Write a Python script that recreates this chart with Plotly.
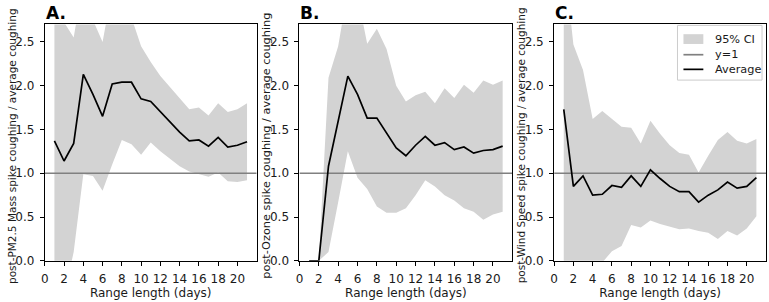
import plotly.graph_objects as go

days = list(range(1, 22))

# Panel A: PM2.5 Mass
pm_avg = [1.37, 1.14, 1.34, 2.13, 1.90, 1.65, 2.02, 2.04, 2.04, 1.85, 1.82, 1.70, 1.58, 1.47,
          1.37, 1.38, 1.31, 1.41, 1.30, 1.32, 1.36]
pm_hi = [2.90, 2.72, 2.55, 3.20, 2.75, 2.50, 3.10, 2.95, 2.78, 2.45, 2.27, 2.11, 1.98, 1.85,
         1.73, 1.75, 1.66, 1.80, 1.70, 1.73, 1.80]
pm_lo = [-0.50, -0.40, 0.10, 0.99, 0.97, 0.80, 1.10, 1.38, 1.33, 1.21, 1.35, 1.25, 1.16, 1.08,
         1.02, 0.99, 0.96, 1.01, 0.91, 0.90, 0.92]

# Panel B: Ozone
oz_avg = [0.00, 0.00, 1.08, 1.60, 2.11, 1.90, 1.63, 1.63, 1.46, 1.29, 1.20, 1.32, 1.42, 1.32,
          1.35, 1.27, 1.30, 1.23, 1.26, 1.27, 1.31]
oz_hi = [0.00, 0.00, 2.09, 2.45, 3.10, 3.03, 2.48, 2.65, 2.42, 2.00, 1.82, 1.89, 1.93, 1.80,
         1.97, 1.86, 2.01, 1.92, 2.06, 2.01, 2.06]
oz_lo = [0.00, 0.00, 0.10, 0.67, 1.25, 0.95, 0.82, 0.62, 0.55, 0.55, 0.60, 0.75, 0.92, 0.85,
         0.75, 0.69, 0.60, 0.56, 0.47, 0.53, 0.56]

# Panel C: Wind Speed
ws_avg = [1.73, 0.85, 0.97, 0.75, 0.76, 0.86, 0.84, 0.97, 0.85, 1.04, 0.94, 0.85, 0.79, 0.79,
          0.67, 0.75, 0.81, 0.90, 0.83, 0.85, 0.95]
ws_hi = [3.50, 2.47, 2.18, 1.62, 1.71, 1.62, 1.53, 1.52, 1.34, 1.60, 1.45, 1.32, 1.23, 1.21,
         1.01, 1.20, 1.38, 1.47, 1.37, 1.34, 1.39]
ws_lo = [-1.00, -0.80, -0.60, -0.30, -0.02, 0.11, 0.17, 0.41, 0.38, 0.46, 0.42, 0.39, 0.36, 0.37,
         0.34, 0.32, 0.25, 0.34, 0.29, 0.37, 0.51]

panels = [
    ("A.", "post-PM2.5 Mass spike coughing / average coughing", pm_avg, pm_hi, pm_lo),
    ("B.", "post-Ozone spike coughing / average coughing", oz_avg, oz_hi, oz_lo),
    ("C.", "post-Wind Speed spike coughing / average coughing", ws_avg, ws_hi, ws_lo),
]

legend_labels = ["95% CI", "y=1", "Average"]
x_range = [0, 22]
y_range = [0, 2.7]
ref_level = 1.0
x_ticks = list(range(0, 21, 2))
y_ticks = [0.0, 0.5, 1.0, 1.5, 2.0, 2.5]

W, H = 769, 302
x_domains = [(41, 254), (297, 511), (553, 766)]
y_dom = [(H - 267) / H, (H - 25) / H]
ytitle_sizes = [10.5, 11.3, 10.5]

FONT = "DejaVu Sans"
TXT = "#1a1a1a"
CI_COLOR = "#d3d3d3"
REF_COLOR = "#808080"
fig = go.Figure()


def px(xp):
    return xp / W


def py(yp):
    return (H - yp) / H


for i, (label, ytitle, avg, hi, lo) in enumerate(panels):
    sfx = "" if i == 0 else str(i + 1)
    xa, ya = "x" + sfx, "y" + sfx
    fig.add_trace(go.Scatter(
        x=days + days[::-1], y=hi + lo[::-1], fill="toself", mode="lines",
        line=dict(width=0), fillcolor=CI_COLOR, name=legend_labels[0],
        showlegend=False, xaxis=xa, yaxis=ya, hoverinfo="skip"))
    fig.add_trace(go.Scatter(
        x=x_range, y=[ref_level, ref_level], mode="lines",
        line=dict(color=REF_COLOR, width=1.7), name=legend_labels[1],
        showlegend=False, xaxis=xa, yaxis=ya))
    fig.add_trace(go.Scatter(
        x=days, y=avg, mode="lines", line=dict(color="black", width=1.7),
        name=legend_labels[2], showlegend=False, xaxis=xa, yaxis=ya))

    d0, d1 = x_domains[i]
    axis_common = dict(showline=True, linecolor="black", linewidth=1, mirror=True,
                       ticks="outside", ticklen=4, tickwidth=1, tickcolor="black",
                       showgrid=False, zeroline=False,
                       tickfont=dict(family=FONT, size=12, color=TXT))
    fig.layout["xaxis" + sfx] = dict(
        domain=[d0 / W, d1 / W], range=x_range, anchor=ya, tickvals=x_ticks,
        ticklabelstandoff=3,
        title=dict(text="Range length (days)", font=dict(family=FONT, size=12, color=TXT),
                   standoff=3),
        **axis_common)
    fig.layout["yaxis" + sfx] = dict(
        domain=y_dom, range=y_range, anchor=xa, tickvals=y_ticks, tickformat=".1f",
        ticklabelstandoff=3,
        **axis_common)
    # y-axis title
    fig.add_annotation(text=ytitle, x=px(d0 - 33.5), y=py(149), xref="paper", yref="paper",
                       xanchor="center", yanchor="middle", textangle=-90, showarrow=False,
                       font=dict(family=FONT, size=ytitle_sizes[i], color=TXT))
    # panel label
    fig.add_annotation(text="<b>" + label + "</b>", x=px(d0 - 1), y=1.0 - 1 / H,
                       xref="paper", yref="paper", xanchor="left", yanchor="top",
                       showarrow=False, font=dict(family=FONT, size=17, color="black"))

# Legend drawn in panel C (upper right)
fig.add_shape(type="rect", xref="paper", yref="paper", layer="above",
              x0=px(677), x1=px(762), y0=py(82), y1=py(26),
              fillcolor="rgba(255,255,255,0.8)", line=dict(color="#cccccc", width=1))
fig.add_shape(type="rect", xref="paper", yref="paper", layer="above",
              x0=px(683), x1=px(703), y0=py(45), y1=py(35),
              fillcolor=CI_COLOR, line=dict(width=0))
fig.add_shape(type="line", xref="paper", yref="paper", layer="above",
              x0=px(683), x1=px(703), y0=py(56), y1=py(56),
              line=dict(color=REF_COLOR, width=1.7))
fig.add_shape(type="line", xref="paper", yref="paper", layer="above",
              x0=px(683), x1=px(703), y0=py(71), y1=py(71),
              line=dict(color="black", width=1.7))
for lbl, yc in zip(legend_labels, [40, 56, 71]):
    fig.add_annotation(text=lbl, x=px(713), y=py(yc), xref="paper", yref="paper",
                       xanchor="left", yanchor="middle", showarrow=False,
                       font=dict(family=FONT, size=11.3, color=TXT))

fig.update_layout(
    width=W, height=H, margin=dict(l=0, r=0, t=0, b=0),
    paper_bgcolor="white", plot_bgcolor="white",
    font=dict(family=FONT, size=12, color=TXT),
    showlegend=False,
)

fig.write_html("out.html")
